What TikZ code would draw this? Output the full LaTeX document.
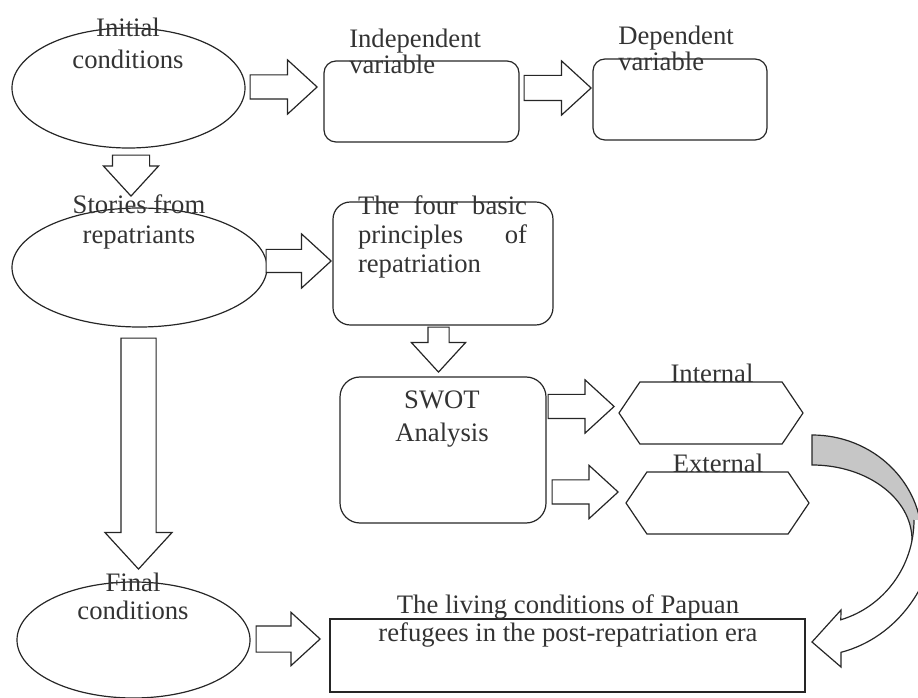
\documentclass[tikz,border=0pt]{standalone}
\usepackage{fontspec}
\setmainfont{Liberation Serif}
\usetikzlibrary{shapes.geometric,shapes.arrows,shapes.symbols}

\newcommand\pxu{0.75pt}

\tikzset{
  line/.style={draw=black!85, line width=0.9pt},
  oval/.style={line, ellipse, inner sep=0pt},
  rbox/.style={line, rectangle, rounded corners=9pt, inner sep=0pt},
  hexa/.style={line, signal, signal to=west and east, signal pointer angle=112, inner sep=0pt},
  blockarrow/.style={line, single arrow, single arrow tip angle=85, inner xsep=0pt, fill=white, anchor=tip},
  txt/.style={text=black!80, font=\fontsize{20}{22}\selectfont, inner sep=0pt, align=center},
}

\begin{document}
\begin{tikzpicture}[x=0.75pt, y=-0.75pt]
\useasboundingbox (0,0) rectangle (918,698);

% first row
\node[oval, minimum width=233*\pxu, minimum height=120*\pxu] (init) at (128.5,88) {};
\node[txt, font=\fontsize{20}{24}\selectfont] (initT) at (128,43) {Initial\\conditions};
\node[blockarrow, minimum height=67*\pxu, inner ysep=11.5*\pxu, single arrow head extend=15*\pxu] (a1) at (318,87) {};
\node[rbox, minimum width=195*\pxu, minimum height=81*\pxu] (indep) at (421.5,101.5) {};
\node[txt, align=left, anchor=west, font=\fontsize{20}{20}\selectfont] (indepT) at (349,51.5) {Independent\\variable};
\node[blockarrow, minimum height=67*\pxu, inner ysep=12*\pxu, single arrow head extend=14.5*\pxu] (a2) at (592,88) {};
\node[rbox, minimum width=174*\pxu, minimum height=81*\pxu] (dep) at (680,99.5) {};
\node[txt, align=left, anchor=west, font=\fontsize{20}{20}\selectfont] (depT) at (618,48.5) {Dependent\\variable};

% second row
\node[blockarrow, rotate=-90, minimum height=41*\pxu, inner ysep=18*\pxu, single arrow head extend=9*\pxu] (d1) at (131,197) {};
\node[oval, minimum width=255*\pxu, minimum height=119*\pxu] (stories) at (139.5,267.5) {};
\node[txt] (storiesT) at (139,222) {Stories from\\repatriants};
\node[blockarrow, minimum height=65*\pxu, inner ysep=11*\pxu, single arrow head extend=15.5*\pxu] (a3) at (332,261) {};
\node[rbox, rounded corners=13pt, minimum width=220*\pxu, minimum height=123*\pxu] (basic) at (443,263.5) {};
\node[txt, align=left, text width=126.75pt] (basicT) at (442.5,237)
  {The\hfill four\hfill basic\\principles\hfill of\\repatriation};

% SWOT
\node[blockarrow, rotate=-90, minimum height=45*\pxu, inner ysep=10*\pxu, single arrow head extend=16.5*\pxu] (d2) at (438.5,373) {};
\node[rbox, rounded corners=15pt, minimum width=206*\pxu, minimum height=146*\pxu] (swot) at (443,450) {};
\node[txt, font=\fontsize{20}{25}\selectfont] (swotT) at (442,419) {SWOT\\Analysis};
\node[blockarrow, minimum height=66*\pxu, inner ysep=11.5*\pxu, single arrow head extend=14.5*\pxu] (a5) at (615,406.5) {};
\node[hexa, minimum width=184*\pxu, minimum height=62*\pxu] (internal) at (711,413) {};
\node[txt] (internalT) at (712,373) {Internal};
\node[blockarrow, minimum height=66*\pxu, inner ysep=11.5*\pxu, single arrow head extend=14.5*\pxu] (a6) at (619,492) {};
\node[hexa, minimum width=183*\pxu, minimum height=62*\pxu] (external) at (717.5,503) {};
\node[txt] (externalT) at (718,463) {External};

% bottom row
\node[blockarrow, rotate=-90, minimum height=231*\pxu, inner ysep=17*\pxu, single arrow head extend=16*\pxu] (d3) at (138.5,570) {};
\node[oval, minimum width=233*\pxu, minimum height=116*\pxu] (final) at (133.5,640) {};
\node[txt, font=\fontsize{20}{21}\selectfont] (finalT) at (133,596) {Final\\conditions};
\node[blockarrow, minimum height=64*\pxu, inner ysep=12.5*\pxu, single arrow head extend=13.5*\pxu] (a7) at (321,639) {};
\node[line, rectangle, minimum width=475*\pxu, minimum height=73*\pxu, inner sep=0pt] (living) at (567.5,655.5) {};
\node[txt, font=\fontsize{20}{21}\selectfont] (livingT) at (568,621)
  {The living conditions of Papuan\\refugees in the post-repatriation era};

% curved arrow back to the box
\filldraw[line, fill=gray!45] (812,435) arc[start angle=-90, end angle=0, x radius=110, y radius=105]
  -- (912,540) arc[start angle=0, end angle=-90, x radius=100, y radius=75] -- cycle;
\fill[white] (914,520) arc[start angle=0, end angle=73.6, x radius=102, y radius=104]
  -- (841,610) -- (812,642) -- (841,667) -- (841,652.3)
  arc[start angle=76.6, end angle=0, x radius=125, y radius=136] -- cycle;
\draw[line] (914,520) arc[start angle=0, end angle=73.6, x radius=102, y radius=104]
  -- (841,610) -- (812,642) -- (841,667) -- (841,652.3)
  arc[start angle=76.6, end angle=0, x radius=125, y radius=136];
\end{tikzpicture}
\end{document}
